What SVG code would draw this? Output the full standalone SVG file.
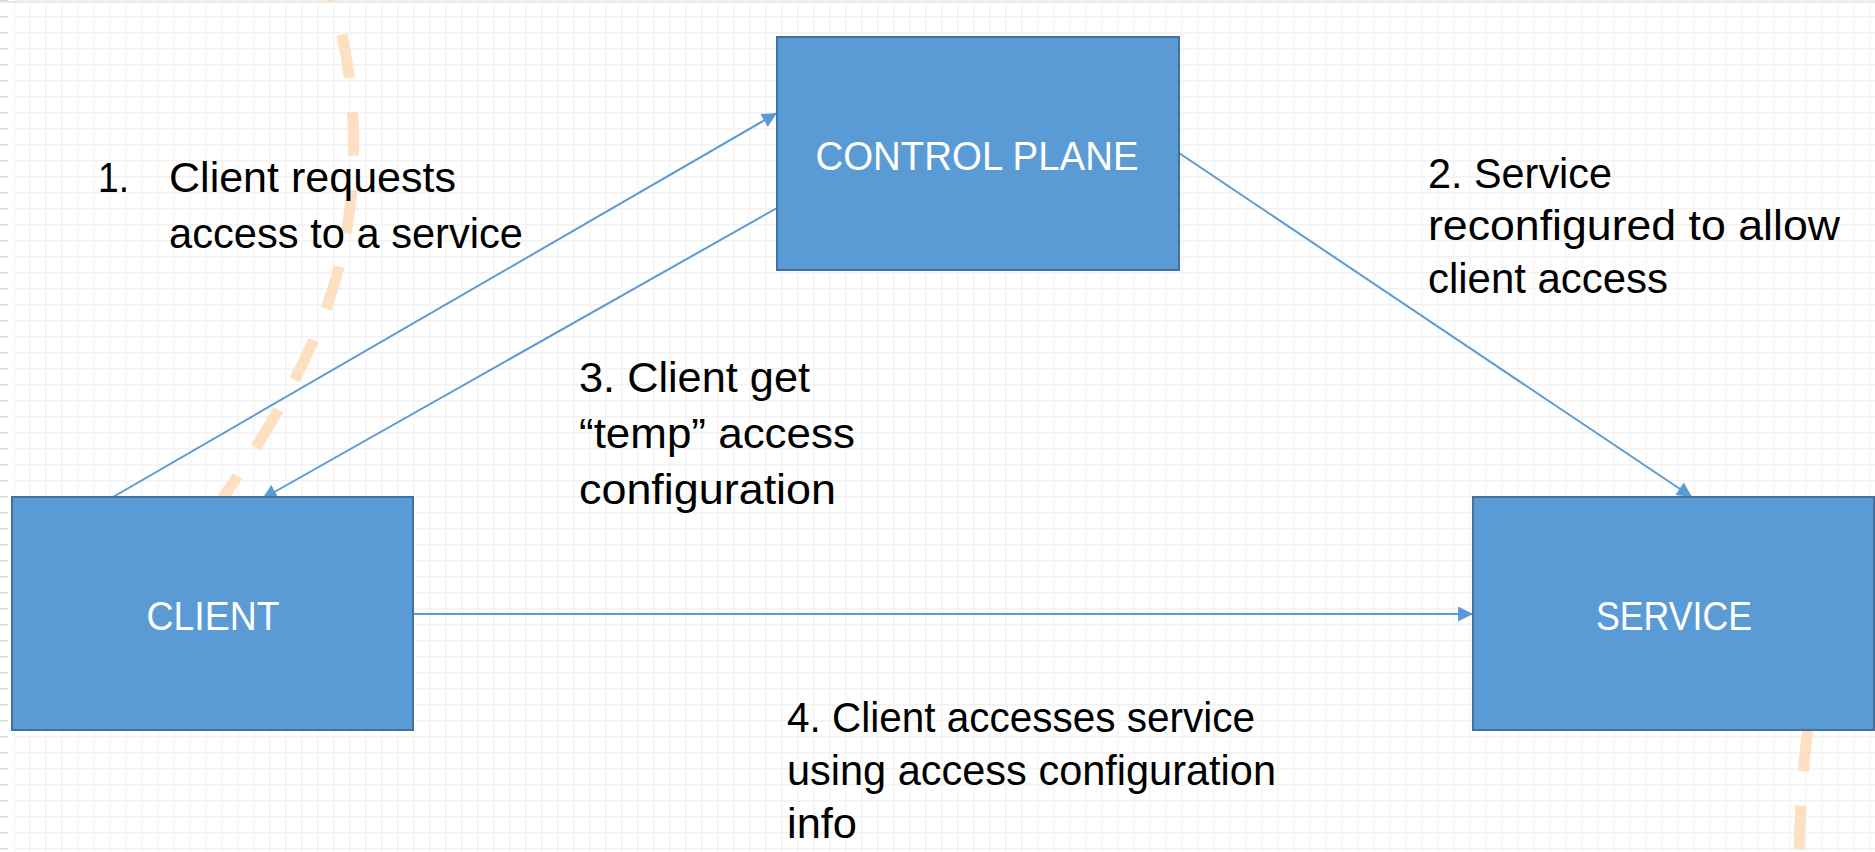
<svg xmlns="http://www.w3.org/2000/svg" width="1875" height="852" viewBox="0 0 1875 852">
<defs>
<pattern id="grid" patternUnits="userSpaceOnUse" x="13.3" y="16" width="16" height="16">
<path d="M0.7 0 V16 M0 0.7 H16" stroke="#f2f2f2" stroke-width="1.4" fill="none"/>
</pattern>
<pattern id="ticks" patternUnits="userSpaceOnUse" x="0" y="16" width="9" height="16">
<path d="M0 0.7 H8" stroke="#d6d6d6" stroke-width="1.4" fill="none"/>
</pattern>
<marker id="arrow" markerUnits="userSpaceOnUse" markerWidth="16" markerHeight="16" refX="15" refY="7.5" orient="auto">
<path d="M0,0 L15,7.5 L0,15 z" fill="#5b9bd5"/>
</marker>
</defs>
<style>
.box{fill:#5b9bd5;stroke:#41719c;stroke-width:2}
.boxtxt{font-family:"Liberation Sans",Arial,sans-serif;font-size:41px;fill:#ffffff;text-anchor:middle}
.lbl{font-family:"Liberation Sans",Arial,sans-serif;font-size:43px;fill:#000000}
.conn{stroke:#5b9bd5;stroke-width:2;fill:none;marker-end:url(#arrow)}
.dash{stroke:#fce0c1;stroke-width:11;fill:none;stroke-dasharray:44 34}
</style>
<rect x="0" y="0" width="1875" height="852" fill="#ffffff"/>
<rect x="14" y="0" width="1861" height="852" fill="url(#grid)"/>
<rect x="0" y="0" width="9" height="852" fill="url(#ticks)"/>
<line x1="0" y1="2" x2="1875" y2="2" stroke="#e6e6e6" stroke-width="1.5"/>
<g id="dashed-curve">
<path class="dash" stroke-dashoffset="40" d="M332,-2 C352,60 362,150 345,240 C330,321 290,400 215,510"/>
<path class="dash" d="M1808,728 Q1800,790 1799,860"/>
</g>
<g id="labels">
<text class="lbl" x="98" y="192" textLength="31" lengthAdjust="spacingAndGlyphs">1.</text>
<text class="lbl" x="169" y="192" textLength="287" lengthAdjust="spacingAndGlyphs">Client requests</text>
<text class="lbl" x="169" y="248" textLength="354" lengthAdjust="spacingAndGlyphs">access to a service</text>
<text class="lbl" x="1428" y="188" textLength="184" lengthAdjust="spacingAndGlyphs">2. Service</text>
<text class="lbl" x="1428" y="240" textLength="412" lengthAdjust="spacingAndGlyphs">reconfigured to allow</text>
<text class="lbl" x="1428" y="293" textLength="240" lengthAdjust="spacingAndGlyphs">client access</text>
<text class="lbl" x="579" y="392" textLength="231" lengthAdjust="spacingAndGlyphs">3. Client get</text>
<text class="lbl" x="579" y="448" textLength="276" lengthAdjust="spacingAndGlyphs">“temp” access</text>
<text class="lbl" x="579" y="504" textLength="257" lengthAdjust="spacingAndGlyphs">configuration</text>
<text class="lbl" x="787" y="732" textLength="468" lengthAdjust="spacingAndGlyphs">4. Client accesses service</text>
<text class="lbl" x="787" y="785" textLength="489" lengthAdjust="spacingAndGlyphs">using access configuration</text>
<text class="lbl" x="787" y="838" textLength="70" lengthAdjust="spacingAndGlyphs">info</text>
</g>
<g id="connectors">
<line class="conn" x1="113" y1="497" x2="777" y2="113"/>
<line class="conn" x1="1179" y1="153" x2="1692" y2="497"/>
<line class="conn" x1="777" y1="208" x2="262" y2="499"/>
<line class="conn" x1="413" y1="614" x2="1473" y2="614"/>
</g>
<g id="control-plane">
<rect class="box" x="777" y="37" width="402" height="233"/>
<text class="boxtxt" x="977" y="170" textLength="323" lengthAdjust="spacingAndGlyphs">CONTROL PLANE</text>
</g>
<g id="client">
<rect class="box" x="12" y="497" width="401" height="233"/>
<text class="boxtxt" x="213" y="630" textLength="133" lengthAdjust="spacingAndGlyphs">CLIENT</text>
</g>
<g id="service">
<rect class="box" x="1473" y="497" width="401" height="233"/>
<text class="boxtxt" x="1674" y="630" textLength="156" lengthAdjust="spacingAndGlyphs">SERVICE</text>
</g>
</svg>
